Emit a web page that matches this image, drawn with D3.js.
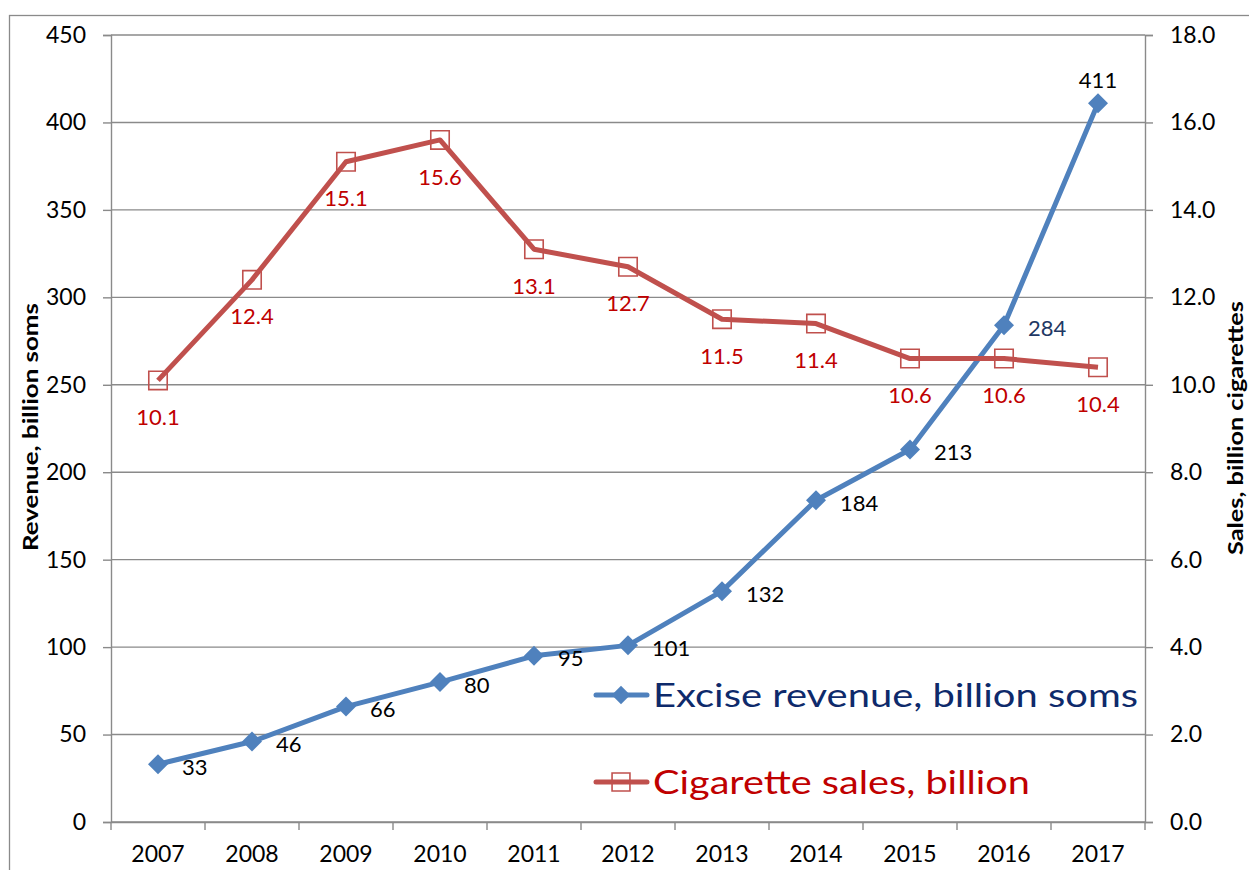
<!DOCTYPE html>
<html>
<head>
<meta charset="utf-8">
<script src="https://cdn.jsdelivr.net/npm/d3@7"></script>
<style>
  html, body { margin: 0; padding: 0; background: #fff; }
  svg { display: block; }
  text { font-family: Lato, "Open Sans", sans-serif; }
</style>
</head>
<body>
<svg id="chart" width="1249" height="870"></svg>
<script>
// ---- data ----
const years = ["2007","2008","2009","2010","2011","2012","2013","2014","2015","2016","2017"];
const exciseRevenue = [33, 46, 66, 80, 95, 101, 132, 184, 213, 284, 411];
const cigaretteSales = [10.1, 12.4, 15.1, 15.6, 13.1, 12.7, 11.5, 11.4, 10.6, 10.6, 10.4];
const leftTicks = [0, 50, 100, 150, 200, 250, 300, 350, 400, 450];
const rightTicks = [0, 2, 4, 6, 8, 10, 12, 14, 16, 18];
const seriesNames = ["Excise revenue, billion soms", "Cigarette sales, billion"];
const axisTitles = ["Revenue, billion soms", "Sales, billion cigarettes"];

// ---- layout ----
const W = 1249, H = 870;
const L = 111, R = 1145, T = 35, B = 822;
const gray = "#8a8a8a";
const blue = "#4F81BD", red = "#C0504D";

const svg = d3.select("#chart");
svg.append("rect").attr("width", W).attr("height", H).attr("fill", "#fff");
// chart border
svg.append("rect").attr("x", 9.5).attr("y", 15.5).attr("width", 1400).attr("height", 1000)
  .attr("fill", "none").attr("stroke", gray).attr("stroke-width", 1.3);

const x = d3.scaleBand().domain(years).range([L, R]).padding(0);
const yL = d3.scaleLinear().domain([0, 450]).range([B, T]);
const yR = d3.scaleLinear().domain([0, 18]).range([B, T]);
const cx = d => x(d) + x.bandwidth() / 2;

// gridlines
svg.append("g").selectAll("line").data(leftTicks).join("line")
  .attr("x1", L).attr("x2", R)
  .attr("y1", d => yL(d)).attr("y2", d => yL(d))
  .attr("stroke", gray).attr("stroke-width", 1.4);

// left axis
const gL = svg.append("g").attr("transform", `translate(${L},0)`)
  .call(d3.axisLeft(yL).tickValues(leftTicks).tickSize(8).tickPadding(17).tickFormat(d3.format("d")));
// right axis
const gR = svg.append("g").attr("transform", `translate(${R},0)`)
  .call(d3.axisRight(yR).tickValues(rightTicks).tickSize(8).tickPadding(17).tickFormat(d3.format(".1f")));
// bottom axis
const gB = svg.append("g").attr("transform", `translate(0,${B})`)
  .call(d3.axisBottom(x).tickSize(0).tickPadding(24));
[gL, gR, gB].forEach(g => {
  g.select(".domain").attr("stroke", gray).attr("stroke-width", 1.4);
  g.selectAll(".tick line").attr("stroke", gray).attr("stroke-width", 1.4);
  g.selectAll(".tick text").attr("fill", "#000").style("font-size", "23px").style("font-family", "Lato, sans-serif");
});
// category boundary ticks
const bounds = years.map(d => x(d)).concat([x(years[years.length - 1]) + x.bandwidth()]);
svg.append("g").selectAll("line").data(bounds).join("line")
  .attr("x1", d => d).attr("x2", d => d).attr("y1", B).attr("y2", B + 8)
  .attr("stroke", gray).attr("stroke-width", 1.4);

// axis titles
svg.append("text").attr("transform", `translate(38,427) rotate(-90)`)
  .attr("text-anchor", "middle").style("font-size", "21px").style("font-weight", "bold")
  .attr("textLength", 248).attr("lengthAdjust", "spacingAndGlyphs")
  .text(axisTitles[0]);
svg.append("text").attr("transform", `translate(1243,428) rotate(-90)`)
  .attr("text-anchor", "middle").style("font-size", "21px").style("font-weight", "bold")
  .attr("textLength", 254).attr("lengthAdjust", "spacingAndGlyphs")
  .text(axisTitles[1]);

// excise line
const lineL = d3.line().x((d, i) => cx(years[i])).y(d => yL(d));
svg.append("path").datum(exciseRevenue).attr("d", lineL)
  .attr("fill", "none").attr("stroke", blue).attr("stroke-width", 5).attr("stroke-linejoin", "round");
const diamond = d3.symbol().type(d3.symbolSquare).size(200);
svg.append("g").selectAll("path").data(exciseRevenue).join("path")
  .attr("d", diamond)
  .attr("transform", (d, i) => `translate(${cx(years[i])},${yL(d)}) rotate(45)`)
  .attr("fill", blue);

// sales line
const lineR = d3.line().x((d, i) => cx(years[i])).y(d => yR(d));
svg.append("path").datum(cigaretteSales).attr("d", lineR)
  .attr("fill", "none").attr("stroke", red).attr("stroke-width", 5).attr("stroke-linejoin", "round");
const square = d3.symbol().type(d3.symbolSquare).size(340);
svg.append("g").selectAll("path").data(cigaretteSales).join("path")
  .attr("d", square)
  .attr("transform", (d, i) => `translate(${cx(years[i])},${yR(d)})`)
  .attr("fill", "none").attr("stroke", red).attr("stroke-width", 1.6);

// data labels - excise
svg.append("g").selectAll("text").data(exciseRevenue).join("text")
  .attr("x", (d, i) => i === exciseRevenue.length - 1 ? cx(years[i]) : cx(years[i]) + 24)
  .attr("y", (d, i) => i === exciseRevenue.length - 1 ? yL(d) - 21 : yL(d) + 5)
  .attr("text-anchor", (d, i) => i === exciseRevenue.length - 1 ? "middle" : "start")
  .attr("dominant-baseline", "middle")
  .attr("fill", (d, i) => i === 9 ? "#1F3864" : "#000")
  .style("font-size", "22px")
  .text(d => d);

// data labels - sales
svg.append("g").selectAll("text").data(cigaretteSales).join("text")
  .attr("x", (d, i) => cx(years[i]))
  .attr("y", d => yR(d) + 39)
  .attr("text-anchor", "middle")
  .attr("dominant-baseline", "middle")
  .attr("fill", "#C00000")
  .style("font-size", "22px")
  .text(d => d3.format(".1f")(d));

// legend
const legend = svg.append("g");
const lg = [
  {name: seriesNames[0], color: blue, text: "#0E2A6B", y: 695, type: "diamond", len: 485},
  {name: seriesNames[1], color: red, text: "#C00000", y: 782, type: "square", len: 377}
];
lg.forEach(e => {
  legend.append("line").attr("x1", 596).attr("x2", 647).attr("y1", e.y).attr("y2", e.y)
    .attr("stroke", e.color).attr("stroke-width", 5).attr("stroke-linecap", "round");
  if (e.type === "diamond") {
    legend.append("path").attr("d", d3.symbol().type(d3.symbolSquare).size(170))
      .attr("transform", `translate(621,${e.y}) rotate(45)`).attr("fill", e.color);
  } else {
    legend.append("path").attr("d", d3.symbol().type(d3.symbolSquare).size(320))
      .attr("transform", `translate(621,${e.y})`).attr("fill", "none")
      .attr("stroke", e.color).attr("stroke-width", 1.6);
  }
  legend.append("text").attr("x", 653).attr("y", e.y + 12)
    .attr("fill", e.text).style("font-size", "33px")
    .attr("textLength", e.len).attr("lengthAdjust", "spacingAndGlyphs")
    .text(e.name);
});
</script>
</body>
</html>
